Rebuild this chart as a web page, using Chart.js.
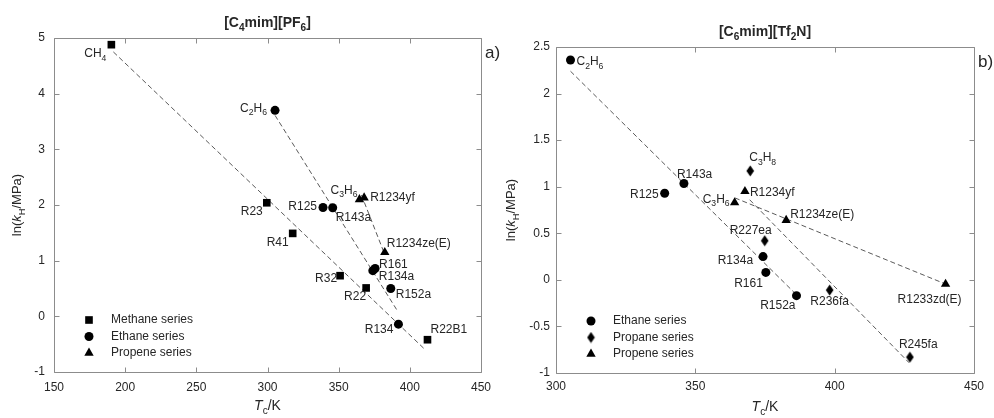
<!DOCTYPE html>
<html>
<head>
<meta charset="utf-8">
<script src="https://cdn.jsdelivr.net/npm/chart.js@4.4.1/dist/chart.umd.min.js"></script>
<style>
html, body { margin: 0; padding: 0; background: #fff; }
#wrap { position: relative; width: 994px; height: 418px; overflow: hidden; }
canvas { position: absolute; top: 0; }
#chartA { left: 0; }
#chartB { left: 494px; }
</style>
</head>
<body>
<div id="wrap">
  <canvas id="chartA" width="520" height="418"></canvas>
  <canvas id="chartB" width="500" height="418"></canvas>
</div>
<script>
// ---- a) [C4mim][PF6] ----
const methaneNamesA = ['CH4', 'R23', 'R41', 'R32', 'R22', 'R22B1'];
const methaneTcA = [190.3, 299.5, 317.7, 351.0, 369.3, 412.4];
const methaneLnkA = [4.88, 2.04, 1.49, 0.73, 0.51, -0.42];

const ethaneNamesA = ['C2H6', 'R125', 'R143a', 'R161', 'R134a', 'R152a', 'R134'];
const ethaneTcA = [305.3, 339.0, 345.8, 375.6, 374.0, 386.6, 392.0];
const ethaneLnkA = [3.70, 1.955, 1.95, 0.86, 0.82, 0.50, -0.14];

const propeneNamesA = ['C3H6', 'R1234yf', 'R1234ze(E)'];
const propeneTcA = [364.6, 367.9, 382.4];
const propeneLnkA = [2.10, 2.13, 1.15];

// dashed trend lines (end points)
const methaneFitTcA = [191.7, 410.0];
const methaneFitLnkA = [4.75, -0.58];
const ethaneFitTcA = [305.3, 391.0];
const ethaneFitLnkA = [3.61, 0.11];
const propeneFitTcA = [366.0, 382.4];
const propeneFitLnkA = [2.18, 1.11];

const xTicksA = [150, 200, 250, 300, 350, 400, 450];
const yTicksA = [-1, 0, 1, 2, 3, 4, 5];

// ---- b) [C6mim][Tf2N] ----
const ethaneNamesB = ['C2H6', 'R125', 'R143a', 'R134a', 'R161', 'R152a'];
const ethaneTcB = [305.2, 339.0, 345.9, 374.3, 375.3, 386.3];
const ethaneLnkB = [2.36, 0.93, 1.035, 0.25, 0.08, -0.17];

const propaneNamesB = ['C3H8', 'R227ea', 'R236fa', 'R245fa'];
const propaneTcB = [369.7, 374.9, 398.2, 427.0];
const propaneLnkB = [1.17, 0.42, -0.11, -0.83];

const propeneNamesB = ['C3H6', 'R1234yf', 'R1234ze(E)', 'R1233zd(E)'];
const propeneTcB = [364.1, 367.8, 382.6, 439.8];
const propeneLnkB = [0.83, 0.95, 0.64, -0.045];

const ethaneFitTcB = [305.2, 386.3];
const ethaneFitLnkB = [2.24, -0.16];
const propaneFitTcB = [369.5, 426.7];
const propaneFitLnkB = [0.86, -0.89];
const propeneFitTcB = [364.2, 439.8];
const propeneFitLnkB = [0.88, -0.045];

const xTicksB = [300, 350, 400, 450];
const yTicksB = [-1, -0.5, 0, 0.5, 1, 1.5, 2, 2.5];

// label placement: [align, dx, dy] relative to the marker
const labelPosA = {
    'CH4': ['right', -5, 9], 'C2H6': ['right', -8, -2], 'R23': ['right', -4, 9],
    'R41': ['right', -4, 9], 'R32': ['right', -3, 3], 'R22': ['right', 0, 9],
    'R22B1': ['left', 3, -10], 'R125': ['right', -6, -1], 'R143a': ['left', 3, 10],
    'C3H6': ['right', -2, -9], 'R1234yf': ['left', 6, 0], 'R1234ze(E)': ['left', 2, -9],
    'R161': ['left', 4, -4], 'R134a': ['left', 6, 6], 'R152a': ['left', 5, 6],
    'R134': ['right', -5, 6]
};
const labelPosB = {
    'C2H6': ['left', 6, 2], 'R125': ['right', -6, 1], 'R143a': ['left', -7, -9],
    'C3H8': ['left', -1, -13], 'R1234yf': ['left', 5, 1], 'C3H6': ['right', -5, -3],
    'R1234ze(E)': ['left', 4, -6], 'R227ea': ['right', 7, -10], 'R134a': ['right', -10, 4],
    'R161': ['right', -3, 11], 'R152a': ['right', -1, 10], 'R236fa': ['center', 0, 12],
    'R1233zd(E)': ['center', -16, 16], 'R245fa': ['left', -11, -12]
};

const FONT = '"Liberation Sans", Arial, Helvetica, sans-serif';
const INK = '#262626';

// narrow diamond marker
const diamond = document.createElement('canvas');
diamond.width = 9;
diamond.height = 12;
(function () {
    let c = diamond.getContext('2d');
    c.fillStyle = '#000';
    c.beginPath();
    c.moveTo(4.5, 0.5); c.lineTo(8.3, 6); c.lineTo(4.5, 11.5); c.lineTo(0.7, 6);
    c.closePath();
    c.fill();
})();

function points(tc, lnk) {
    return tc.map(function (x, i) { return { x: x, y: lnk[i] }; });
}

function seriesSet(label, names, tc, lnk, style, radius) {
    return {
        label: label, names: names, data: points(tc, lnk),
        pointStyle: style, pointRadius: radius, pointHoverRadius: radius,
        backgroundColor: '#000', borderColor: '#000', pointBorderWidth: 0,
        showLine: false, isSeries: true
    };
}

function fitSet(tc, lnk) {
    return {
        data: points(tc, lnk), showLine: true, borderColor: '#5a5a5a',
        borderWidth: 1, borderDash: [5, 3], pointRadius: 0, pointHoverRadius: 0,
        fill: false, isSeries: false
    };
}

// chemical formulas get subscript digits
function richName(name) {
    if (!/^C\d*H\d*$/.test(name)) return [{ t: name }];
    return name.match(/[A-Z]+|\d+/g).map(function (p) {
        return /\d/.test(p) ? { t: p, sub: true } : { t: p };
    });
}

function drawRich(ctx, segs, x, y, align, size, bold) {
    let font = function (s) {
        return (s.it ? 'italic ' : '') + (bold ? 'bold ' : '') + (s.sub ? size * 0.72 : size) + 'px ' + FONT;
    };
    let w = 0;
    segs.forEach(function (s) {
        ctx.font = font(s);
        s.w = ctx.measureText(s.t).width;
        w += s.w;
    });
    let cx = align === 'right' ? x - w : align === 'center' ? x - w / 2 : x;
    ctx.textAlign = 'left';
    ctx.textBaseline = 'middle';
    segs.forEach(function (s) {
        ctx.font = font(s);
        ctx.fillText(s.t, cx, s.sub ? y + size * 0.38 : y);
        cx += s.w;
    });
}

function makePanel(id, cfg) {
    let panelPlugin = {
        id: 'panel',
        afterDraw: function (chart) {
            let ctx = chart.ctx;
            let ca = chart.chartArea;
            ctx.save();

            // box and inward ticks
            ctx.strokeStyle = '#8c8c8c';
            ctx.lineWidth = 1;
            let L = Math.round(ca.left) + 0.5, R = Math.round(ca.right) + 0.5;
            let T = Math.round(ca.top) + 0.5, B = Math.round(ca.bottom) + 0.5;
            ctx.beginPath();
            ctx.rect(L, T, R - L, B - T);
            chart.scales.x.ticks.forEach(function (t) {
                let px = Math.round(chart.scales.x.getPixelForValue(t.value)) + 0.5;
                ctx.moveTo(px, B); ctx.lineTo(px, B - 5);
                ctx.moveTo(px, T); ctx.lineTo(px, T + 5);
            });
            chart.scales.y.ticks.forEach(function (t) {
                let py = Math.round(chart.scales.y.getPixelForValue(t.value)) + 0.5;
                ctx.moveTo(L, py); ctx.lineTo(L + 5, py);
                ctx.moveTo(R, py); ctx.lineTo(R - 5, py);
            });
            ctx.stroke();

            // point labels
            ctx.fillStyle = INK;
            chart.data.datasets.forEach(function (ds, di) {
                if (!ds.isSeries) return;
                let meta = chart.getDatasetMeta(di);
                ds.names.forEach(function (name, i) {
                    let el = meta.data[i];
                    let p = cfg.labelPos[name] || ['left', 6, 0];
                    drawRich(ctx, richName(name), el.x + p[1], el.y + p[2], p[0], 12);
                });
            });

            // legend inside the plot, bottom left
            let row = 0;
            chart.data.datasets.forEach(function (ds) {
                if (!ds.isSeries) return;
                let lx = ca.left + 35, ly = ca.bottom - 52 + row * 16.5;
                ctx.fillStyle = '#000';
                Chart.helpers.drawPoint(ctx, { pointStyle: ds.pointStyle, radius: ds.pointRadius, rotation: 0, borderWidth: 0 }, lx, ly);
                ctx.fillStyle = INK;
                drawRich(ctx, [{ t: ds.label }], lx + 22, ly, 'left', 12);
                row++;
            });

            // titles
            let mid = (ca.left + ca.right) / 2;
            ctx.fillStyle = INK;
            drawRich(ctx, cfg.title, mid, ca.top - 15, 'center', 14, true);
            drawRich(ctx, [{ t: 'T', it: true }, { t: 'c', sub: true }, { t: '/K' }], mid, ca.bottom + 34, 'center', 14);
            ctx.save();
            ctx.translate(17, (ca.top + ca.bottom) / 2);
            ctx.rotate(-Math.PI / 2);
            drawRich(ctx, [{ t: 'ln(' }, { t: 'k', it: true }, { t: 'H', sub: true }, { t: '/MPa)' }], 0, 0, 'center', 13);
            ctx.restore();
            drawRich(ctx, [{ t: cfg.tag }], ca.right + 4, ca.top + 15, 'left', 17);

            ctx.restore();
        }
    };

    return new Chart(document.getElementById(id), {
        type: 'scatter',
        data: { datasets: cfg.datasets },
        options: {
            responsive: false,
            animation: false,
            events: [],
            layout: { padding: { top: cfg.top, right: cfg.right, bottom: 0, left: 0 } },
            plugins: { legend: { display: false }, tooltip: { enabled: false } },
            scales: {
                x: {
                    type: 'linear', min: cfg.xTicks[0], max: cfg.xTicks[cfg.xTicks.length - 1],
                    afterBuildTicks: function (s) { s.ticks = cfg.xTicks.map(function (v) { return { value: v }; }); },
                    afterFit: function (s) { s.height = cfg.xHeight; },
                    grid: { display: false, drawTicks: false },
                    border: { display: false },
                    ticks: {
                        font: { family: FONT, size: 12 }, color: INK, padding: cfg.xPad,
                        maxRotation: 0, autoSkip: false,
                        callback: function (v) { return String(v); }
                    }
                },
                y: {
                    type: 'linear', min: cfg.yTicks[0], max: cfg.yTicks[cfg.yTicks.length - 1],
                    afterBuildTicks: function (s) { s.ticks = cfg.yTicks.map(function (v) { return { value: v }; }); },
                    afterFit: function (s) { s.width = cfg.yWidth; },
                    grid: { display: false, drawTicks: false },
                    border: { display: false },
                    ticks: {
                        font: { family: FONT, size: 12 }, color: INK, padding: cfg.yPad,
                        autoSkip: false,
                        callback: function (v) { return String(v); }
                    }
                }
            }
        },
        plugins: [panelPlugin]
    });
}

makePanel('chartA', {
    title: [{ t: '[C' }, { t: '4', sub: true }, { t: 'mim][PF' }, { t: '6', sub: true }, { t: ']' }],
    tag: 'a)',
    labelPos: labelPosA,
    xTicks: xTicksA, yTicks: yTicksA,
    top: 38, right: 39, xHeight: 46, yWidth: 54, xPad: 8, yPad: 9,
    datasets: [
        seriesSet('Methane series', methaneNamesA, methaneTcA, methaneLnkA, 'rect', 5.4),
        seriesSet('Ethane series', ethaneNamesA, ethaneTcA, ethaneLnkA, 'circle', 4.5),
        seriesSet('Propene series', propeneNamesA, propeneTcA, propeneLnkA, 'triangle', 5.4),
        fitSet(methaneFitTcA, methaneFitLnkA),
        fitSet(ethaneFitTcA, ethaneFitLnkA),
        fitSet(propeneFitTcA, propeneFitLnkA)
    ]
});

makePanel('chartB', {
    title: [{ t: '[C' }, { t: '6', sub: true }, { t: 'mim][Tf' }, { t: '2', sub: true }, { t: 'N]' }],
    tag: 'b)',
    labelPos: labelPosB,
    xTicks: xTicksB, yTicks: yTicksB,
    top: 47, right: 20, xHeight: 45, yWidth: 62, xPad: 6, yPad: 6,
    datasets: [
        seriesSet('Ethane series', ethaneNamesB, ethaneTcB, ethaneLnkB, 'circle', 4.5),
        seriesSet('Propane series', propaneNamesB, propaneTcB, propaneLnkB, diamond, 5),
        seriesSet('Propene series', propeneNamesB, propeneTcB, propeneLnkB, 'triangle', 5.4),
        fitSet(ethaneFitTcB, ethaneFitLnkB),
        fitSet(propaneFitTcB, propaneFitLnkB),
        fitSet(propeneFitTcB, propeneFitLnkB)
    ]
});
</script>
</body>
</html>
